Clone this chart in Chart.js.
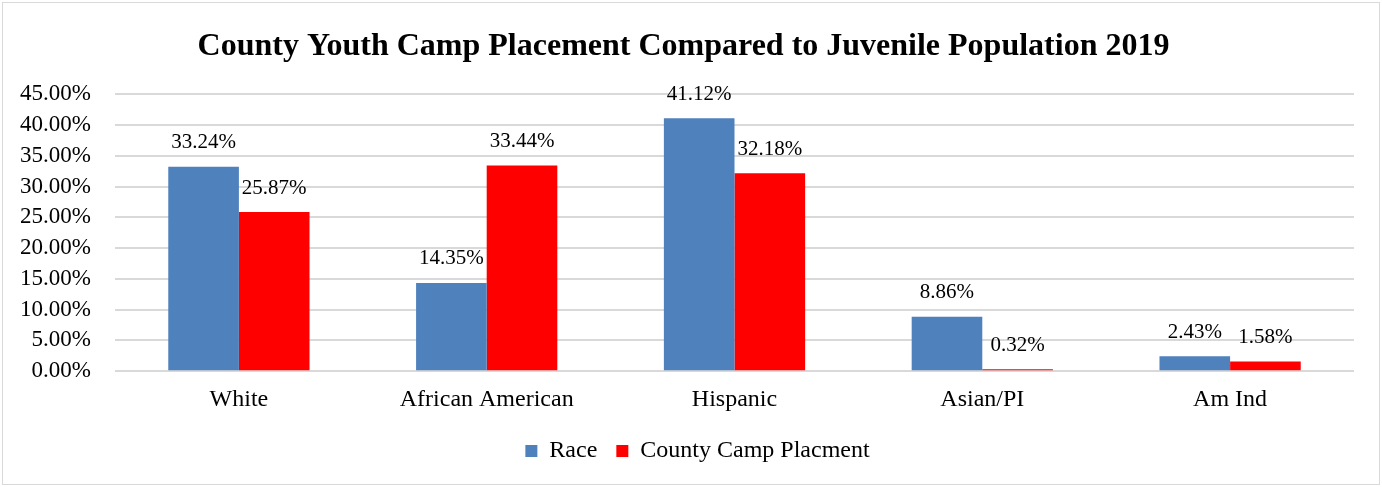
<!DOCTYPE html>
<html>
<head>
<meta charset="utf-8">
<script src="https://cdn.jsdelivr.net/npm/chart.js@4"></script>
<style>
  body { margin: 0; background: #fff; }
  #wrap { position: absolute; left: 2px; top: 2px; width: 1376px; height: 481px; border: 1px solid #d9d9d9; }
</style>
</head>
<body>
<div id="wrap"><canvas id="chart"></canvas></div>
<script>
const categories = ['White', 'African American', 'Hispanic', 'Asian/PI', 'Am Ind'];
const raceValues = [33.24, 14.35, 41.12, 8.86, 2.43];
const campValues = [25.87, 33.44, 32.18, 0.32, 1.58];
const yTicksMax = 45;
const yTickStep = 5;

const serif = "'Liberation Serif', 'Times New Roman', serif";

// draws the value above each bar
const valueLabels = {
    id: 'valueLabels',
    afterDatasetsDraw(chart) {
        const ctx = chart.ctx;
        ctx.save();
        ctx.font = '21px ' + serif;
        ctx.fillStyle = '#000';
        ctx.textAlign = 'center';
        ctx.textBaseline = 'middle';
        chart.data.datasets.forEach((ds, i) => {
            chart.getDatasetMeta(i).data.forEach((bar, j) => {
                ctx.fillText(ds.data[j].toFixed(2) + '%', bar.x, bar.y - 24);
            });
        });
        ctx.restore();
    }
};

// legend sits a bit right of the plot centre in the original
const nudgeLegend = {
    id: 'nudgeLegend',
    afterLayout(chart) {
        chart.legend.left += 14;
        chart.legend.right += 14;
    }
};

new Chart(document.getElementById('chart'), {
    type: 'bar',
    data: {
        labels: categories,
        datasets: [
            { label: 'Race', data: raceValues, backgroundColor: '#4f81bd' },
            { label: 'County Camp Placment', data: campValues, backgroundColor: '#ff0000' }
        ]
    },
    options: {
        responsive: true,
        maintainAspectRatio: false,
        animation: false,
        layout: { padding: { left: 10, right: 25, top: 25, bottom: 11 } },
        datasets: { bar: { categoryPercentage: 0.57, barPercentage: 1.0 } },
        plugins: {
            title: {
                display: true,
                text: 'County Youth Camp Placement Compared to Juvenile Population 2019',
                color: '#000',
                font: { family: serif, size: 32, weight: 'bold' },
                padding: { top: 0, bottom: 28 }
            },
            legend: {
                position: 'bottom',
                labels: {
                    color: '#000',
                    boxWidth: 12,
                    boxHeight: 12,
                    padding: 19,
                    font: { family: serif, size: 24 }
                }
            },
            tooltip: { enabled: false }
        },
        scales: {
            x: {
                grid: { display: false },
                border: { display: false },
                ticks: { color: '#000', font: { family: serif, size: 24 }, padding: 6 }
            },
            y: {
                min: 0,
                max: yTicksMax,
                afterFit(scale) { scale.width = 102; },
                grid: { color: '#d9d9d9', lineWidth: 2, drawTicks: false },
                border: { display: false },
                ticks: {
                    stepSize: yTickStep,
                    autoSkip: false,
                    color: '#000',
                    padding: 24,
                    font: { family: serif, size: 23 },
                    callback: v => v.toFixed(2) + '%'
                }
            }
        }
    },
    plugins: [valueLabels, nudgeLegend]
});
</script>
</body>
</html>
